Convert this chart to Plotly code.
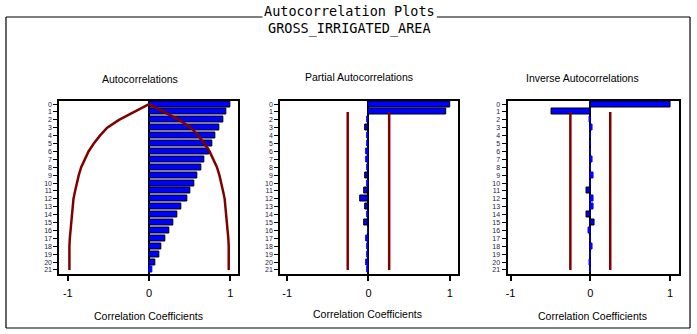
import plotly.graph_objects as go

W, H = 697, 334

# ---------------- data ----------------
lags = list(range(22))
lag_labels = [str(l) for l in lags]
x_ticks = [-1, 0, 1]
x_tick_labels = ["-1", "0", "1"]

acf = [1.0, 0.952, 0.915, 0.866, 0.817, 0.782, 0.744, 0.685, 0.646, 0.597, 0.561,
       0.513, 0.465, 0.400, 0.351, 0.302, 0.253, 0.204, 0.155, 0.122, 0.073, 0.037]
acf_bound = [0.0, 0.18, 0.37, 0.515, 0.605, 0.68, 0.745, 0.79, 0.835, 0.865, 0.89,
             0.91, 0.93, 0.94, 0.95, 0.96, 0.97, 0.975, 0.98, 0.98, 0.98, 0.98]

pacf = [1.0, 0.955, -0.02, -0.04, -0.02, -0.02, -0.03, -0.03, -0.02, -0.04, -0.02,
        -0.053, -0.10, -0.04, -0.02, -0.053, -0.005, -0.03, -0.02, -0.02, -0.03, -0.012]
pacf_bound = 0.255

iacf = [1.0, -0.48, -0.005, 0.025, 0.008, 0.004, 0.004, 0.025, 0.004, 0.035, 0.004,
        -0.05, 0.035, 0.035, -0.045, 0.058, -0.02, 0.0, 0.025, 0.004, -0.004, 0.0]
iacf_bound = 0.25

title = "Autocorrelation Plots"
subtitle = "GROSS_IRRIGATED_AREA"
panel_titles = ["Autocorrelations", "Partial Autocorrelations", "Inverse Autocorrelations"]
axis_title = "Correlation Coefficients"

# ---------------- styling ----------------
BLUE = "#0000FF"
RED = "#800000"
SANS = "Liberation Sans, Arial, sans-serif"
MONO = "DejaVu Sans Mono, monospace"


def fx(px):
    return px / W


def fy(py):
    return 1 - py / H


def outline(vals):
    return ["black" if abs(v) >= 0.04 else BLUE for v in vals]


fig = go.Figure()

series = [acf, pacf, iacf]
for i, vals in enumerate(series):
    ax = "" if i == 0 else str(i + 1)
    fig.add_trace(go.Bar(
        x=vals, y=lags, orientation="h", width=0.75,
        marker=dict(color=BLUE, line=dict(color=outline(vals), width=1)),
        xaxis="x" + ax, yaxis="y" + ax, showlegend=False, hoverinfo="x+y"))

# ACF standard-error curve
fig.add_trace(go.Scatter(x=[-v for v in acf_bound], y=lags, mode="lines",
                         line=dict(color=RED, width=2.5), xaxis="x", yaxis="y",
                         showlegend=False))
fig.add_trace(go.Scatter(x=acf_bound, y=lags, mode="lines",
                         line=dict(color=RED, width=2.5), xaxis="x", yaxis="y",
                         showlegend=False))

# PACF / IACF bounds
for b, ax in [(pacf_bound, "2"), (iacf_bound, "3")]:
    for s in (-1, 1):
        fig.add_trace(go.Scatter(x=[s * b, s * b], y=[lags[1], lags[-1]], mode="lines",
                                 line=dict(color=RED, width=2.5),
                                 xaxis="x" + ax, yaxis="y" + ax, showlegend=False))

# ---------------- axes ----------------
panels = [
    # (left px, right px, x range)
    (57.5, 236.5, [-1.104, 1.092]),
    (279.0, 457.0, [-1.086, 1.098]),
    (507.0, 679.0, [-1.0375, 1.1125]),
]
top_px, bot_px = 100.5, 273.5

layout = dict(
    width=W, height=H, margin=dict(l=0, r=0, t=0, b=0),
    paper_bgcolor="white", plot_bgcolor="white", bargap=0,
    font=dict(family=SANS, color="black"),
)
for i, (l, r, xr) in enumerate(panels):
    ax = "" if i == 0 else str(i + 1)
    layout["xaxis" + ax] = dict(
        domain=[fx(l), fx(r)], range=xr, anchor="y" + ax,
        tickvals=x_ticks, ticktext=x_tick_labels, ticks="outside", ticklen=5,
        tickwidth=2, tickcolor="black", ticklabelstandoff=3,
        showline=True, linecolor="black", linewidth=2, mirror=True,
        showgrid=False, zeroline=True, zerolinecolor="black", zerolinewidth=2,
        tickfont=dict(family=SANS, size=11, color="black"), fixedrange=True)
    layout["yaxis" + ax] = dict(
        domain=[fy(bot_px), fy(top_px)], range=[21.45, -0.45], anchor="x" + ax,
        tickvals=lags, ticktext=lag_labels, ticks="outside", ticklen=4,
        tickwidth=1, tickcolor="black",
        showline=True, linecolor="black", linewidth=2, mirror=True,
        showgrid=False, zeroline=False,
        tickfont=dict(family=SANS, size=7, color="#1c1c48"), fixedrange=True)

# ---------------- texts ----------------
ann = []
ann.append(dict(text=title, x=fx(349), y=fy(11), xref="paper", yref="paper",
                showarrow=False, font=dict(family=MONO, size=13.5, color="black"),
                xanchor="center", yanchor="middle", bgcolor="white"))
ann.append(dict(text=subtitle, x=fx(349), y=fy(28), xref="paper", yref="paper",
                showarrow=False, font=dict(family=MONO, size=13.5, color="black"),
                xanchor="center", yanchor="middle"))
title_pos = [(138, 79), (358, 77), (582, 78)]
axis_pos = [(147, 316), (367, 314), (592, 316)]
for t, (x, y) in zip(panel_titles, title_pos):
    ann.append(dict(text=t, x=fx(x), y=fy(y), xref="paper", yref="paper",
                    showarrow=False, font=dict(family=SANS, size=10.5, color="black"),
                    xanchor="center", yanchor="middle"))
for (x, y) in axis_pos:
    ann.append(dict(text=axis_title, x=fx(x), y=fy(y), xref="paper", yref="paper",
                    showarrow=False, font=dict(family=SANS, size=10.5, color="black"),
                    xanchor="center", yanchor="middle"))
layout["annotations"] = ann

# outer frame (broken at the title)
frame = [
    (4, 17, 4, 328), (690, 17, 690, 328), (4, 328, 690, 328),
    (4, 17, 262, 17), (436, 17, 690, 17),
]
layout["shapes"] = [dict(type="line", xref="paper", yref="paper",
                         x0=fx(a), y0=fy(b), x1=fx(c), y1=fy(d),
                         line=dict(color="black", width=1.2)) for a, b, c, d in frame]

fig.update_layout(**layout)
fig.write_html("out.html", config={"displayModeBar": False},
               post_script="document.body.style.margin='0px';document.body.style.padding='0px';")
